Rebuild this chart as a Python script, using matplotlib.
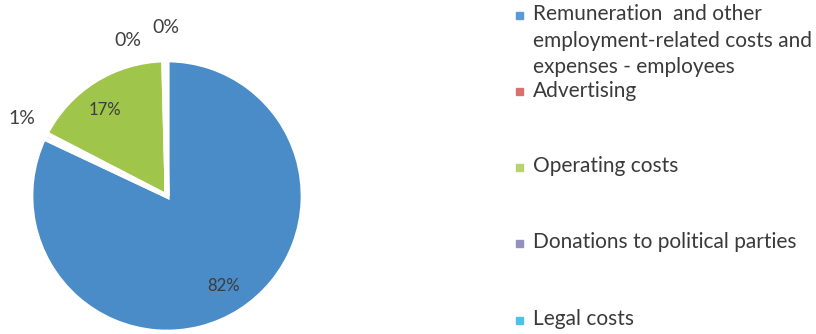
import numpy as np
import matplotlib.pyplot as plt
from matplotlib.patches import Rectangle

plt.rcParams['font.family'] = ['Lato', 'DejaVu Sans']

categories = ['Remuneration  and other\nemployment-related costs and\nexpenses - employees',
              'Advertising', 'Operating costs', 'Donations to political parties', 'Legal costs']
shares = [82.0, 0.6, 17.0, 0.2, 0.2]
colors = ['#4a8cc8', '#c0504d', '#9fc54a', '#8a84b8', '#4bb8e0']
legend_colors = ['#5b9bd5', '#d9726f', '#b5d36a', '#9590bd', '#4fc0ea']

# label tweaks for the tiny slices (angle shift in degrees, radius)
label_place = {1: (-2.0, 1.21), 3: (13.0, 1.18), 4: (0.0, 1.24)}

fig = plt.figure(figsize=(8.16, 3.34), dpi=100)
W, H = 816, 334
cx, cy, r = 167, 196, 136
ax = fig.add_axes([(cx - r) / W, (H - cy - r) / H, 2 * r / W, 2 * r / H])

wedges, _ = ax.pie(shares, colors=colors, startangle=90, counterclock=False,
                   wedgeprops=dict(edgecolor='white', linewidth=3.4))
ax.set_xlim(-1, 1)
ax.set_ylim(-1, 1)
ax.set_aspect('equal')
ax.axis('off')

total = sum(shares)
for i, w in enumerate(wedges):
    mid = (w.theta1 + w.theta2) / 2
    pct = shares[i] / total * 100
    txt = f"{pct:.0f}%"
    if pct > 5:
        rr = 0.78
        shift = 4.0 if i == 2 else 0.0
        a = np.radians(mid + shift)
        ax.text(rr * np.cos(a), rr * np.sin(a), txt, ha='center', va='center',
                fontsize=12, color='#3c3c3c')
    else:
        shift, rr = label_place.get(i, (0.0, 1.2))
        a = np.radians(mid + shift)
        ax.text(rr * np.cos(a), rr * np.sin(a), txt, ha='center', va='center',
                fontsize=14, color='#404040', clip_on=False)

# legend, drawn by hand so the marker sits on the first line of wrapped text
legend_y = [15, 92, 167, 243, 320]
for name, col, ly in zip(categories, legend_colors, legend_y):
    fig.patches.append(Rectangle(((519 - 3.5) / W, (H - ly - 3.5) / H), 7 / W, 7 / H,
                                 transform=fig.transFigure, color=col))
    fig.text(533 / W, (H - ly + 11) / H, name, ha='left', va='top',
             fontsize=15, color='#3a3a3a', linespacing=1.42)

fig.savefig('out.png', dpi=100)
